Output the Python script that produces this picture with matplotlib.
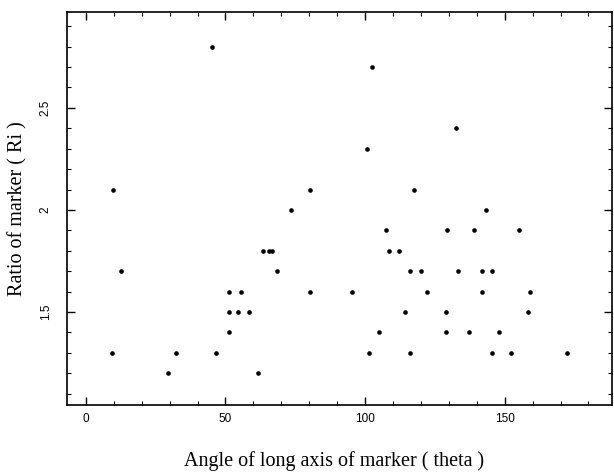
import matplotlib
matplotlib.use("Agg")
import matplotlib.pyplot as plt
from matplotlib.ticker import MultipleLocator

theta = [9.2, 9.6, 12.4, 29.3, 32.3, 45.2, 46.5, 51.4, 51.4, 51.4, 54.6, 55.4, 58.4,
         61.5, 63.6, 65.6, 66.7, 68.6, 73.6, 80.3, 80.3, 95.2, 100.7, 101.4, 102.6,
         105.1, 107.4, 108.5, 112.3, 114.2, 116.1, 116.1, 117.5, 120.1, 122.0, 129.1,
         129.1, 129.3, 132.5, 133.2, 137.2, 139.1, 142.0, 142.0, 143.3, 145.3, 145.3,
         148.1, 152.2, 155.2, 158.3, 159.1, 172.2]
ratio = [1.3, 2.1, 1.7, 1.2, 1.3, 2.8, 1.3, 1.6, 1.5, 1.4, 1.5, 1.6, 1.5,
         1.2, 1.8, 1.8, 1.8, 1.7, 2.0, 1.6, 2.1, 1.6, 2.3, 1.3, 2.7,
         1.4, 1.9, 1.8, 1.8, 1.5, 1.7, 1.3, 2.1, 1.7, 1.6, 1.5,
         1.4, 1.9, 2.4, 1.7, 1.4, 1.9, 1.7, 1.6, 2.0, 1.7, 1.3,
         1.4, 1.3, 1.9, 1.5, 1.6, 1.3]

xticks = [0, 50, 100, 150]
yticks = [1.5, 2.0, 2.5]
ytick_labels = ["1.5", "2", "2.5"]

fig = plt.figure(figsize=(6.14, 4.76), dpi=100)
ax = fig.add_axes([0.109, 0.149, 0.888, 0.826])
ax.scatter(theta, ratio, s=11, color="black", zorder=3, linewidths=0)

ax.set_xlim(-6.8, 188.5)
ax.set_ylim(1.044, 2.97)
ax.set_xticks(xticks)
ax.set_xticklabels([str(t) for t in xticks], family="Liberation Sans", fontsize=8.5)
ax.set_yticks(yticks)
ax.set_yticklabels(ytick_labels, family="Liberation Sans", fontsize=8.5,
                   rotation=90, va="center")
ax.xaxis.set_minor_locator(MultipleLocator(10))
ax.yaxis.set_minor_locator(MultipleLocator(0.1))
ax.tick_params(which="both", direction="in", top=True, right=True, color="black")
ax.tick_params(which="major", length=6, width=1)
ax.tick_params(which="minor", length=3, width=0.8)
ax.tick_params(axis="x", which="major", pad=6)
ax.tick_params(axis="y", which="major", pad=11)
for sp in ax.spines.values():
    sp.set_linewidth(1.2)

ax.set_xlabel("Angle of long axis of marker ( theta )", family="Liberation Serif",
              fontsize=14.5, va="top")
ax.xaxis.set_label_coords(0.49, -0.117)
ax.set_ylabel("Ratio of marker ( Ri )", family="Liberation Serif", fontsize=14.5)
ax.yaxis.set_label_coords(-0.072, 0.5)

fig.savefig("out.png", dpi=100)
